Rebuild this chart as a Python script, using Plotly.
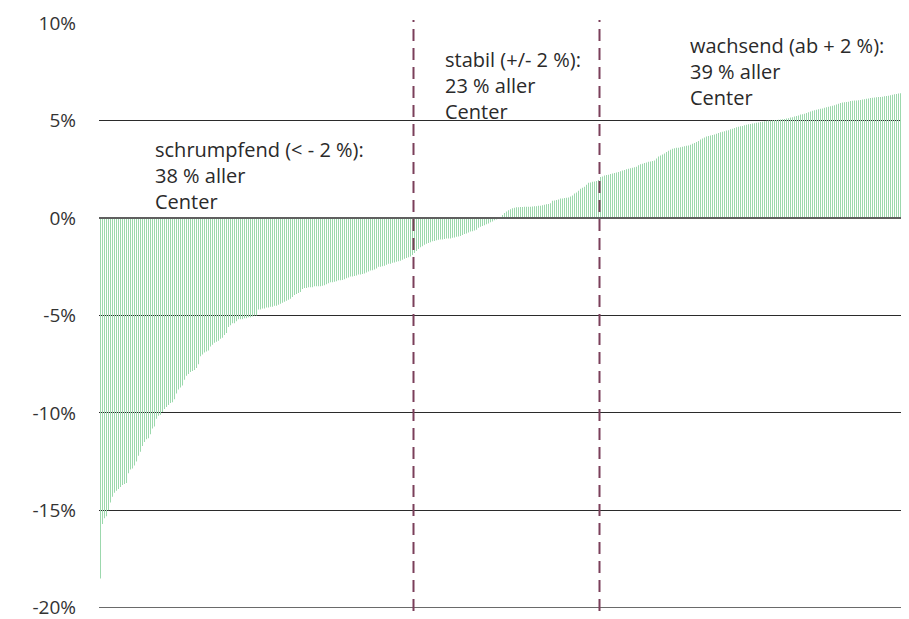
import plotly.graph_objects as go

# Veränderung je Center (%), sortiert
values = [
    -18.5, -15.7, -15.4, -15.3, -15.0, -14.6, -14.3, -14.1, -14.0, -13.9,
    -13.8, -13.7, -13.65, -13.6, -13.1, -12.9, -12.85, -12.7, -12.5, -12.2,
    -12.0, -11.7, -11.5, -11.35, -11.3, -11.1, -10.8, -10.7, -10.3, -10.15,
    -10.1, -9.95, -9.8, -9.7, -9.6, -9.5, -9.45, -9.3, -9.0, -8.8,
    -8.7, -8.6, -8.3, -8.1, -8.0, -7.9, -7.85, -7.8, -7.7, -7.5,
    -7.1, -7.0, -6.9, -6.85, -6.8, -6.6, -6.5, -6.4, -6.35, -6.3,
    -6.2, -6.15, -6.0, -5.9, -5.6, -5.5, -5.4, -5.4, -5.3, -5.2,
    -5.2, -5.2, -5.15, -5.15, -5.1, -5.1, -5.05, -5.0, -5.0, -4.7,
    -4.7, -4.65, -4.65, -4.6, -4.6, -4.55, -4.55, -4.5, -4.5, -4.45,
    -4.4, -4.35, -4.3, -4.25, -4.2, -4.15, -4.05, -3.95, -3.9, -3.85,
    -3.8, -3.65, -3.6, -3.6, -3.55, -3.55, -3.55, -3.5, -3.5, -3.5,
    -3.5, -3.48, -3.45, -3.4, -3.35, -3.3, -3.3, -3.28, -3.25, -3.2,
    -3.2, -3.18, -3.15, -3.1, -3.05, -3.0, -3.0, -2.98, -2.95, -2.9,
    -2.9, -2.88, -2.85, -2.8, -2.75, -2.7, -2.68, -2.65, -2.6, -2.5,
    -2.5, -2.48, -2.45, -2.4, -2.35, -2.35, -2.3, -2.28, -2.25, -2.22,
    -2.2, -2.15, -2.1, -2.05, -2.02, -1.98, -1.9, -1.8, -1.7, -1.6,
    -1.5, -1.45, -1.38, -1.33, -1.28, -1.25, -1.2, -1.18, -1.15, -1.12,
    -1.1, -1.1, -1.08, -1.06, -1.05, -1.05, -1.02, -1.0, -0.97, -0.95,
    -0.93, -0.88, -0.82, -0.8, -0.75, -0.7, -0.68, -0.65, -0.6, -0.5,
    -0.45, -0.42, -0.38, -0.33, -0.28, -0.22, -0.18, -0.12, -0.08, -0.05,
    -0.02, 0.15, 0.25, 0.33, 0.4, 0.45, 0.5, 0.52, 0.55, 0.55,
    0.56, 0.56, 0.57, 0.57, 0.58, 0.58, 0.59, 0.6, 0.6, 0.62,
    0.63, 0.65, 0.68, 0.7, 0.72, 0.75, 0.88, 0.9, 0.92, 0.95,
    1.0, 1.0, 1.02, 1.03, 1.05, 1.1, 1.15, 1.25, 1.3, 1.4,
    1.5, 1.55, 1.6, 1.7, 1.8, 1.82, 1.85, 1.87, 1.9, 1.95,
    2.1, 2.12, 2.18, 2.2, 2.22, 2.25, 2.28, 2.3, 2.33, 2.36,
    2.4, 2.43, 2.46, 2.5, 2.52, 2.55, 2.57, 2.6, 2.63, 2.7,
    2.75, 2.78, 2.82, 2.85, 2.88, 2.9, 2.92, 2.95, 3.05, 3.15,
    3.2, 3.25, 3.3, 3.38, 3.45, 3.5, 3.55, 3.58, 3.6, 3.6,
    3.62, 3.65, 3.68, 3.7, 3.72, 3.75, 3.8, 3.85, 3.9, 3.95,
    4.02, 4.08, 4.12, 4.18, 4.2, 4.23, 4.25, 4.28, 4.32, 4.36,
    4.4, 4.42, 4.45, 4.48, 4.5, 4.55, 4.58, 4.62, 4.65, 4.68,
    4.7, 4.72, 4.75, 4.78, 4.8, 4.82, 4.84, 4.86, 4.88, 4.9,
    4.92, 4.94, 4.96, 4.98, 5.0, 5.0, 5.01, 5.02, 5.03, 5.04,
    5.05, 5.06, 5.08, 5.1, 5.12, 5.15, 5.17, 5.2, 5.23, 5.26,
    5.3, 5.32, 5.35, 5.38, 5.42, 5.46, 5.5, 5.53, 5.55, 5.58,
    5.6, 5.62, 5.65, 5.68, 5.7, 5.73, 5.75, 5.78, 5.82, 5.86,
    5.9, 5.92, 5.94, 5.95, 5.96, 6.0, 6.01, 6.02, 6.03, 6.04,
    6.05, 6.07, 6.09, 6.11, 6.13, 6.15, 6.17, 6.18, 6.19, 6.2,
    6.21, 6.22, 6.24, 6.25, 6.27, 6.3, 6.32, 6.34, 6.36, 6.38,
    6.4, 6.42, 6.44, 6.46, 6.48,
]
centers = list(range(len(values)))

# Gruppengrenzen (Index zwischen zwei Centern)
group_bounds = [156.5, 249.5]

y_ticks = [-20, -15, -10, -5, 0, 5, 10]
y_tick_labels = ["-20%", "-15%", "-10%", "-5%", "0%", "5%", "10%"]
y_min = -20

group_labels = [
    ["schrumpfend (< - 2 %):", "38 % aller", "Center"],
    ["stabil (+/- 2 %):", "23 % aller", "Center"],
    ["wachsend (ab + 2 %):", "39 % aller", "Center"],
]
label_x = [0.0667, 0.4247, 0.7272]
label_y = [0.784, 0.937, 0.961]
line_step = 0.0444

font_family = "'Open Sans', Roboto, Arial, sans-serif"

fig = go.Figure()
fig.add_trace(go.Bar(
    x=centers, y=values,
    marker=dict(color="rgba(155,216,172,0.99)", line=dict(width=0)),
    hoverinfo="skip",
))

for b in group_bounds:
    fig.add_shape(type="line", xref="x", yref="paper", x0=b, x1=b, y0=-0.005, y1=1.005,
                  line=dict(color="#7b3f5a", width=2, dash="12px,7px"))

# Nulllinie und unterste Gitterlinie
fig.add_shape(type="line", xref="paper", yref="y", x0=0, x1=1, y0=0, y1=0,
              line=dict(color="#5f5f5f", width=2))
fig.add_shape(type="line", xref="paper", yref="y", x0=0, x1=1, y0=y_min, y1=y_min,
              line=dict(color="#2b2b2b", width=1), layer="below")

for lines, lx, ly in zip(group_labels, label_x, label_y):
    for k, t in enumerate(lines):
        fig.add_annotation(text=t, xref="paper", yref="paper", x=lx, y=ly - k * line_step,
                           xanchor="left", yanchor="middle", showarrow=False,
                           font=dict(family=font_family, size=20, color="#2a2a2a"))

fig.update_layout(
    width=901, height=611,
    margin=dict(l=91, r=0, t=15, b=11, autoexpand=False),
    paper_bgcolor="white", plot_bgcolor="white",
    bargap=0.5,
    showlegend=False,
    font=dict(family=font_family, size=19, color="#333333"),
    xaxis=dict(range=[-0.75, len(values) - 0.75], visible=False, showgrid=False, zeroline=False),
    yaxis=dict(range=[y_min - 0.01, 10], tickvals=y_ticks, ticktext=y_tick_labels,
               showgrid=True, gridcolor="#2b2b2b", gridwidth=1, zeroline=False,
               showline=False, ticks="", ticklabelstandoff=22, automargin=False,
               ticklabeloverflow="allow",
               tickfont=dict(family=font_family, size=19, color="#333333")),
)

fig.write_html("out.html")
